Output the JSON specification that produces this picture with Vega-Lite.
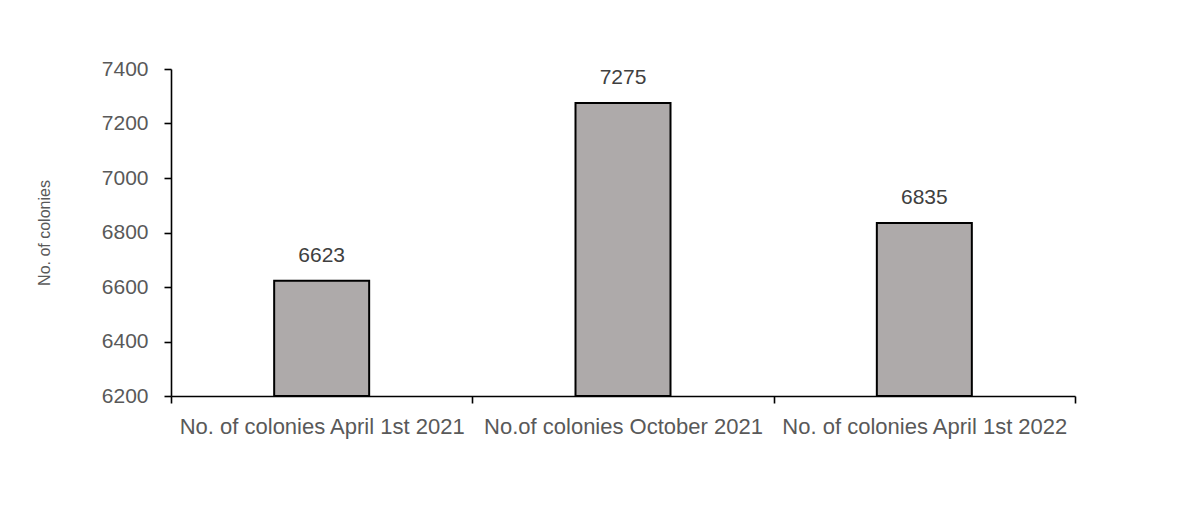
{
  "$schema": "https://vega.github.io/schema/vega-lite/v6.json",
  "autosize": "none",
  "padding": {"left": 171, "top": 69, "right": 114, "bottom": 110},
  "width": 904,
  "height": 327,
  "background": "white",
  "config": {
    "view": {"stroke": null},
    "font": "Liberation Sans",
    "axis": {"grid": false, "domainColor": "black", "domainWidth": 1.6, "tickColor": "black", "tickWidth": 1.6, "labelColor": "#595959", "labelFont": "Liberation Sans", "labelFontSize": 21, "labelLimit": 0, "titleFont": "Liberation Sans"}
  },
  "data": {
    "values": [
      {"period": "No. of colonies April 1st 2021", "colonies": 6623},
      {"period": "No.of colonies October 2021", "colonies": 7275},
      {"period": "No. of colonies April 1st 2022", "colonies": 6835}
    ]
  },
  "encoding": {
    "x": {
      "field": "period", "type": "nominal", "sort": null,
      "scale": {"paddingInner": 0, "paddingOuter": 0},
      "axis": {"title": null, "labelAngle": 0, "labelFontSize": 22, "tickBand": "extent", "tickSize": 7, "labelPadding": 30, "labelBaseline": "alphabetic"}
    },
    "y": {
      "field": "colonies", "type": "quantitative",
      "scale": {"domain": [6200, 7400], "zero": false, "nice": false},
      "axis": {"title": "No. of colonies", "titleFontSize": 16, "titleFontWeight": "normal", "titleColor": "#595959", "titlePadding": 49, "values": [6200, 6400, 6600, 6800, 7000, 7200, 7400], "format": "d", "tickSize": 7, "labelPadding": 16, "labelBaseline": "middle"}
    }
  },
  "layer": [
    {
      "mark": {"type": "bar", "width": 95, "fill": "#AEAAAA", "stroke": "black", "strokeWidth": 2},
      "encoding": {"y2": {"datum": 6200}}
    },
    {
      "mark": {"type": "text", "dy": -19, "baseline": "alphabetic", "fontSize": 21, "color": "#404040", "font": "Liberation Sans"},
      "encoding": {"text": {"field": "colonies", "type": "quantitative", "format": "d"}}
    }
  ]
}
